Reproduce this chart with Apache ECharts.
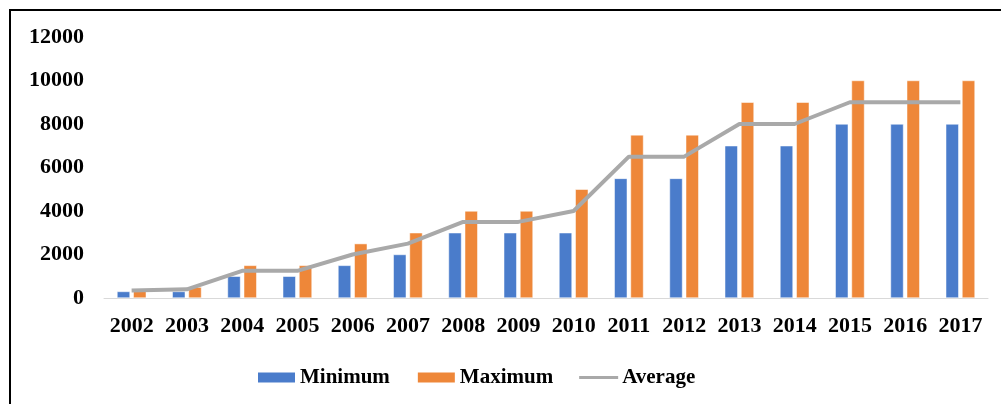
<!DOCTYPE html>
<html><head><meta charset="utf-8">
<script src="https://cdn.jsdelivr.net/npm/echarts@6/dist/echarts.min.js"></script>
<style>
html,body{margin:0;padding:0;background:#fff;overflow:hidden;}
#frame{position:absolute;left:9px;top:9px;width:1100px;height:500px;border:2px solid #000;box-sizing:border-box;}
#c{position:absolute;left:0;top:0;width:1001px;height:404px;}
</style></head>
<body>
<div id="frame"></div>
<div id="c"></div>
<script>
const years = ['2002','2003','2004','2005','2006','2007','2008','2009','2010','2011','2012','2013','2014','2015','2016','2017'];
const minimum = [300,300,1000,1000,1500,2000,3000,3000,3000,5500,5500,7000,7000,8000,8000,8000];
const maximum = [400,500,1500,1500,2500,3000,4000,4000,5000,7500,7500,9000,9000,10000,10000,10000];
const average = [350,400,1250,1250,2000,2500,3500,3500,4000,6500,6500,8000,8000,9000,9000,9000];
const yTicks = {min:0, max:12000, interval:2000};

const font = 'Liberation Serif';
const chart = echarts.init(document.getElementById('c'));
chart.setOption({
  animation:false,
  grid:{left:104, right:13, top:37, bottom:106, containLabel:false},
  legend:{
    top:367, left:256, itemGap:26, itemWidth:39, itemHeight:12, padding:0,
    textStyle:{fontFamily:font, fontWeight:'bold', fontSize:21, color:'#000', padding:[0,0,0,-1]},
    data:[
      {name:'Minimum',icon:'rect'},
      {name:'Maximum',icon:'rect'},
      {name:'Average',icon:'path://M0,0 M0,12 M0,4.5 L39,4.5 L39,7.5 L0,7.5 Z'}
    ]
  },
  xAxis:{
    type:'category', data:years,
    axisLine:{lineStyle:{color:'#d9d9d9', width:1}},
    axisTick:{show:false},
    axisLabel:{interval:0, fontFamily:font, fontWeight:'bold', fontSize:22, color:'#000', margin:17}
  },
  yAxis:{
    type:'value', min:yTicks.min, max:yTicks.max, interval:yTicks.interval,
    splitLine:{show:false}, axisLine:{show:false}, axisTick:{show:false},
    axisLabel:{fontFamily:font, fontWeight:'bold', fontSize:22, color:'#000', margin:20,
      formatter:function(v){return String(v);}}
  },
  series:[
    {name:'Minimum', type:'bar', data:minimum, barWidth:13, barGap:'25%', itemStyle:{color:'#4a7ccb', borderColor:'#fff', borderWidth:0.5}},
    {name:'Maximum', type:'bar', data:maximum, barWidth:13, itemStyle:{color:'#ee8739', borderColor:'#fff', borderWidth:0.5}},
    {name:'Average', type:'line', data:average, symbol:'none', lineStyle:{color:'#a9a9a9', width:4}, itemStyle:{color:'#a9a9a9'}}
  ]
});
</script>
</body></html>
